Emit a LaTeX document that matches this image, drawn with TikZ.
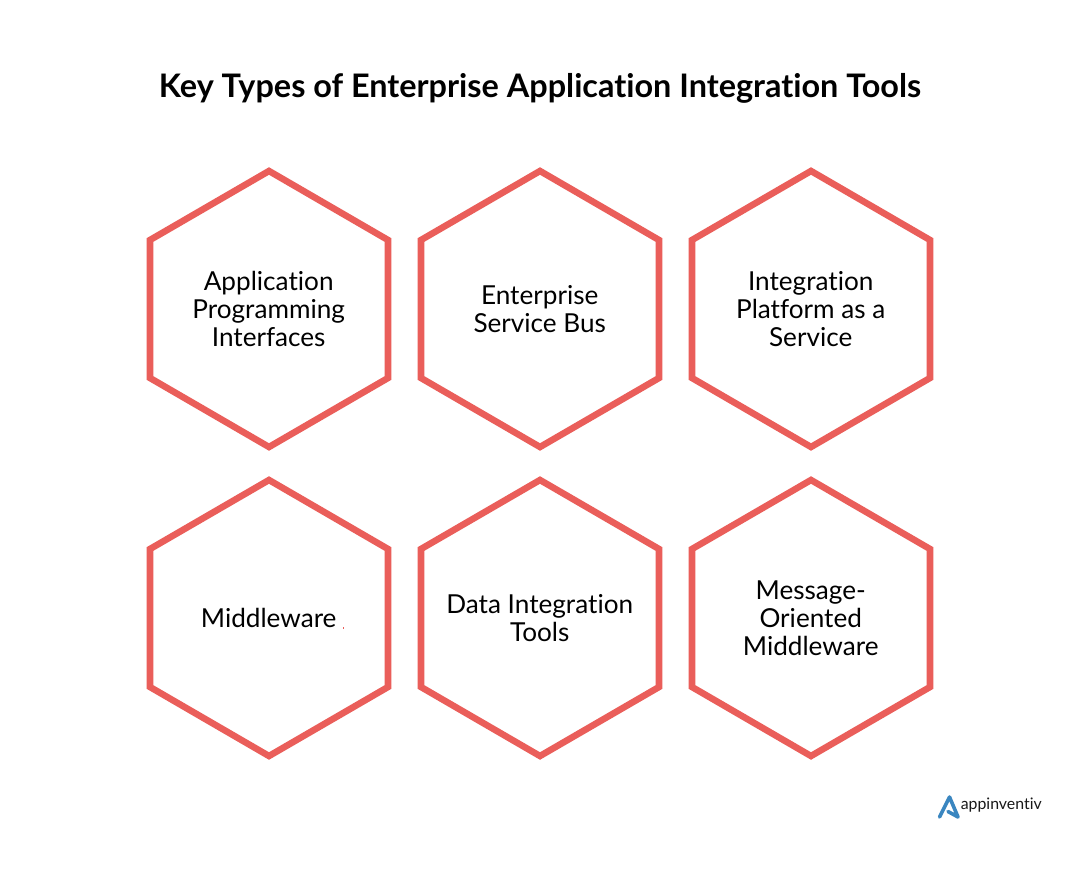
\documentclass[tikz,border=0pt]{standalone}
\usepackage{fontspec}
\setmainfont[Ligatures=NoCommon,Renderer=OpenType]{Lato}
\definecolor{hexred}{HTML}{EA5E5A}
\definecolor{logoblue}{HTML}{3A86C0}
\newcommand{\hexcell}[3]{%
  \draw[hexline] (#1,#2-138) -- (#1+119,#2-69) -- (#1+119,#2+69) -- (#1,#2+138) -- (#1-119,#2+69) -- (#1-119,#2-69) -- cycle;
  \node[hextext] at (#1-0.3,#2) {#3};
}
\tikzset{
  hexline/.style={draw=hexred,line width=4.9pt,miter limit=10,line join=miter},
  hextext/.style={align=center,font=\fontsize{19.6pt}{21pt}\selectfont,text=black,inner sep=0pt},
  titletext/.style={font=\fontsize{24.3pt}{28pt}\selectfont\bfseries,text=black,inner sep=0pt},
  logotext/.style={font=\fontsize{11.9pt}{14pt}\selectfont,text=black!90,inner sep=0pt,anchor=west}
}
\begin{document}
\begin{tikzpicture}[x=0.75pt,y=-0.75pt]
\useasboundingbox (0,0) rectangle (1080,870);
\fill[white] (0,0) rectangle (1080,870);
\node[titletext] (title) at (540,88) {Key Types of Enterprise Application Integration Tools};
\hexcell{269}{309}{Application\\Programming\\Interfaces}
\hexcell{540}{309}{Enterprise\\Service Bus}
\hexcell{811}{309}{Integration\\Platform as a\\Service}
\hexcell{269}{618}{Middleware}
\hexcell{540}{618}{Data Integration\\Tools}
\hexcell{811}{618}{Message-\\Oriented\\Middleware}
\fill[hexred] (342.6,627) rectangle (343.4,629);
\draw[logoblue,line width=2.7pt,line join=round,line cap=round] (939.5,817) -- (949.5,797) -- (958,817) -- (948,811.5);
\node[logotext] (logo) at (960.5,805) {appinventiv};
\end{tikzpicture}
\end{document}
